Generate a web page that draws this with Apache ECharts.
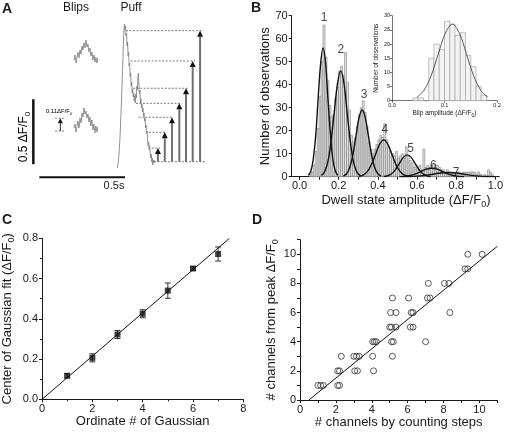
<!DOCTYPE html>
<html><head><meta charset="utf-8">
<script src="https://cdn.jsdelivr.net/npm/echarts@6/dist/echarts.min.js"></script>
<style>html,body{margin:0;padding:0;background:#fff}#c{width:506px;height:433px}</style>
</head><body><div id="c"></div>
<script>
// ---------- Panel A (time in s, amplitude in dF/F0) ----------
const puffStart = 0.455, puffStep = 0.003;
const puffTrace = [-0.048,-0.033,-0.002,0.044,0.105,0.167,0.259,0.352,0.459,0.567,0.690,0.798,0.921,1.013,1.059,1.013,1.044,0.967,0.990,0.890,0.921,0.813,0.844,0.736,0.759,0.652,0.682,0.582,0.613,0.528,0.559,0.498,0.528,0.467,0.505,0.452,0.521,0.490,0.582,0.552,0.644,0.682,0.598,0.521,0.552,0.452,0.482,0.413,0.444,0.382,0.413,0.352,0.375,0.313,0.336,0.259,0.282,0.213,0.236,0.167,0.121,0.152,0.090,0.121,0.067,0.028,0.059,-0.002,0.028,-0.025,0.013,-0.010,0.013];
const blipStart = 0.2025, blipStep = 0.0058;
const blipUpper = [0.782,0.821,0.759,0.805,0.844,0.798,0.859,0.828,0.890,0.859,0.913,0.875,0.936,0.882,0.905,0.844,0.875,0.813,0.844,0.782,0.821,0.767,0.805,0.759,0.798];
const blipLower = [0.259,0.290,0.228,0.275,0.313,0.259,0.336,0.298,0.375,0.344,0.413,0.367,0.390,0.336,0.367,0.305,0.344,0.275,0.321,0.244,0.290,0.221,0.275,0.228,0.267];
const stepLevels = [0.105,0.226,0.342,0.449,0.565,0.775,1.008];
const stepArrowT = [0.692,0.732,0.774,0.817,0.856,0.895,0.938];
const stepDashStart = [0.656,0.640,0.578,0.564,0.548,0.533,0.506];
const stepDashEnd = [0.704,0.743,0.782,0.831,0.869,0.908,0.957];
const puffBaseline = [0.669,0.967,0];
const blipRefDash = [[0.092,0.150,0.236],[0.092,0.150,0.334]];
const blipRefArrow = [0.1225,0.236,0.334];

// ---------- Panel B ----------
const histStart = 0.05, histBin = 0.01;
const histCounts = [1,2,5,11,21,35,50,66,52,42,31,26,27,34,39,46,48,44,54,41,29,18,15,17,22,27,30,33,28,22,15,12,10,12,14,16,18,17,23,16,13,11,10,9,11,8,9,10,8,13,9,7,6,4,5,4,5,3,12,4,5,4,5,5,4,5,4,3,3,2,3,2,2,2,1,2,2,1,2,2,2,2,2,2,2,1,2,1,0,1,0,3,2,1,0];
const fit1 = [[0.045,0.6],[0.058,2.5],[0.07,7.6],[0.083,18.2],[0.095,34],[0.108,49.4],[0.12,56],[0.133,49.4],[0.145,34],[0.158,18.2],[0.17,7.6],[0.183,2.5],[0.195,0.6]];
const fit2 = [[0.111,0.5],[0.127,2],[0.144,6.2],[0.16,14.9],[0.177,27.9],[0.194,40.6],[0.21,46],[0.227,40.6],[0.243,27.9],[0.26,14.9],[0.276,6.2],[0.293,2],[0.309,0.5]];
const fit3 = [[0.224,0.3],[0.24,1.3],[0.256,3.9],[0.272,9.4],[0.288,17.6],[0.304,25.6],[0.32,29],[0.336,25.6],[0.352,17.6],[0.368,9.4],[0.384,3.9],[0.4,1.3],[0.416,0.3]];
const fit4 = [[0.304,0.2],[0.325,0.7],[0.346,2.2],[0.367,5.2],[0.388,9.7],[0.409,14.1],[0.43,16],[0.451,14.1],[0.472,9.7],[0.493,5.2],[0.514,2.2],[0.535,0.7],[0.556,0.2]];
const fit5 = [[0.43,0.1],[0.45,0.4],[0.47,1.3],[0.49,3.1],[0.51,5.8],[0.53,8.4],[0.55,9.5],[0.57,8.4],[0.59,5.8],[0.61,3.1],[0.63,1.3],[0.65,0.4],[0.67,0.1]];
const fit6 = [[0.51,0.04],[0.5375,0.16],[0.565,0.5],[0.5925,1.2],[0.62,2.24],[0.6475,3.27],[0.675,3.7],[0.7025,3.27],[0.73,2.24],[0.7575,1.2],[0.785,0.5],[0.8125,0.16],[0.84,0.04]];
const fit7 = [[0.52,0.02],[0.56,0.08],[0.6,0.24],[0.64,0.58],[0.68,1.09],[0.72,1.59],[0.76,1.8],[0.8,1.59],[0.84,1.09],[0.88,0.58],[0.92,0.24],[0.96,0.08],[1.0,0.02]];
const peakLabels = ['1','2','3','4','5','6','7'];
const peakLabelPos = [[0.126,69],[0.211,55.4],[0.33,35.5],[0.435,20.6],[0.567,12],[0.683,4.8],[0.8,1.9]];
const insetStart = 0.04, insetBin = 0.01;
const insetCounts = [1,1,0,15,20,18,28,27,23,24,16,12,5,2];
const insetFit = [[0.0475,1.2],[0.061,3.7],[0.0745,8.8],[0.088,16.4],[0.1015,23.8],[0.115,27],[0.1285,23.8],[0.142,16.4],[0.1555,8.8],[0.169,3.7],[0.1825,1.2]];

// ---------- Panel C ----------
const cOrdinate = [1,2,3,4,5,6,7];
const cCenter = [0.117,0.206,0.322,0.425,0.540,0.650,0.722];
const cErr = [0.010,0.020,0.020,0.020,0.038,0.008,0.035];
const cFit = [[0,0],[7.45,0.8]];

// ---------- Panel D ----------
const dSteps = [1.0,1.15,1.3,2.1,2.2, 2.1,2.2,3.05,3.2,4.1, 2.3,3.0,3.15,3.3,4.05,5.15, 4.05,4.15,4.25,5.1,5.2,7.0, 5.0,5.1,5.35,6.15,6.3, 5.05,5.35,6.2,6.3,8.35, 5.15,6.05,7.1,7.25, 7.15,8.05,8.3, 9.2,9.35, 9.35,10.15];
const dPeak  = [1,1,1,1,1, 2,2,2,2,2, 3,3,3,3,3,3, 4,4,4,4,4,4, 5,5,5,5,5, 6,6,6,6,6, 7,7,7,7, 8,8,8, 9,9, 10,10];
const dFit = [[0.5,0],[11,10.55]];

// ---------- helpers ----------
const FONT = 'Liberation Sans, Arial, sans-serif';
const INK = '#1a1a1a';
function sub0(pre, post, fs) {
  return {
    text: '{n|' + pre + '}{s|0}{n|' + post + '}',
    rich: {
      n: {fontSize: fs, fontFamily: FONT, color: INK, lineHeight: fs + 2, verticalAlign: 'top'},
      s: {fontSize: Math.round(fs * 0.7), fontFamily: FONT, color: INK, lineHeight: Math.round(fs * 0.7), verticalAlign: 'bottom'}
    }
  };
}
function axis(grid, min, max, extra) {
  return Object.assign({
    type: 'value', gridIndex: grid, min: min, max: max,
    axisLine: {show: true, onZero: false, lineStyle: {color: INK, width: 1}},
    axisTick: {show: true, inside: false, length: 3, lineStyle: {color: INK, width: 1}},
    axisLabel: {color: INK, fontSize: 11, fontFamily: FONT, margin: 4},
    splitLine: {show: false},
    nameLocation: 'middle',
    nameTextStyle: {color: INK, fontSize: 13, fontFamily: FONT}
  }, extra || {});
}
function histItem(width, fill, stroke, lw) {
  return function (params, api) {
    const x0 = api.value(0), y = api.value(1);
    const p0 = api.coord([x0, y]), p1 = api.coord([x0 + width, 0]);
    return {type: 'rect', shape: {x: p0[0], y: p0[1], width: p1[0] - p0[0], height: p1[1] - p0[1]},
            style: {fill: fill, stroke: stroke, lineWidth: lw}};
  };
}

const bxName = sub0('Dwell state amplitude (\u0394F/F', ')', 13);
const insetXName = sub0('Blip amplitude (\u0394F/F', ')', 6.5);
const cyName = sub0('Center of Gaussian fit (\u0394F/F', ')', 13);
const dyName = sub0('# channels from peak \u0394F/F', '', 13);

const chart = echarts.init(document.getElementById('c'), null, {renderer: 'canvas'});
const option = {
  animation: false,
  backgroundColor: '#fff',
  grid: [
    {left: 22.2, top: 18.7, width: 188.5, height: 169},
    {left: 291.7, top: 15.7, width: 209, height: 161},
    {left: 392, top: 15.7, width: 105, height: 85},
    {left: 41.7, top: 238.3, width: 201.6, height: 161},
    {left: 300, top: 239.7, width: 197.4, height: 160.3}
  ],
  xAxis: [
    axis(0, -0.1, 1.0, {show: false}),
    axis(1, -0.04, 1.02, {
      name: bxName.text, nameGap: 17,
      nameTextStyle: {rich: bxName.rich, padding: [0, 0, 0, 21]},
      axisLabel: {color: INK, fontSize: 11, fontFamily: FONT, margin: 4, customValues: [0,0.2,0.4,0.6,0.8,1.0], formatter: v => v.toFixed(1)},
      axisTick: {show: true, length: 3, lineStyle: {color: INK}, customValues: [0,0.1,0.2,0.3,0.4,0.5,0.6,0.7,0.8,0.9,1.0]}
    }),
    axis(2, 0, 0.2, {
      interval: 0.1, name: insetXName.text, nameGap: 7,
      nameTextStyle: {rich: insetXName.rich},
      axisLabel: {color: INK, fontSize: 5.5, fontFamily: FONT, margin: 2, formatter: v => v.toFixed(1)},
      axisTick: {show: true, length: 2, lineStyle: {color: INK, width: 0.6}},
      axisLine: {show: true, onZero: false, lineStyle: {color: INK, width: 0.6}}
    }),
    axis(3, 0, 8, {
      interval: 2, name: 'Ordinate # of Gaussian', nameGap: 15,
      minorTick: {show: true, splitNumber: 2, length: 2, lineStyle: {color: INK}}
    }),
    axis(4, 0, 11, {
      name: '# channels by counting steps', nameGap: 15,
      axisLabel: {color: INK, fontSize: 11, fontFamily: FONT, margin: 4, customValues: [0,2,4,6,8,10]},
      axisTick: {show: true, length: 3, lineStyle: {color: INK}, customValues: [0,1,2,3,4,5,6,7,8,9,10,11]}
    })
  ],
  yAxis: [
    axis(0, -0.2, 1.1, {show: false}),
    axis(1, 0, 70, {
      interval: 10, name: 'Number of observations', nameGap: 17,
      nameTextStyle: {color: INK, fontSize: 13, fontFamily: FONT}
    }),
    axis(2, 0, 30, {
      interval: 5, name: 'Number of observations', nameGap: 8,
      nameTextStyle: {color: INK, fontSize: 6.5, fontFamily: FONT},
      axisLabel: {color: INK, fontSize: 5.5, fontFamily: FONT, margin: 2},
      axisTick: {show: true, length: 2, lineStyle: {color: INK, width: 0.6}},
      axisLine: {show: true, onZero: false, lineStyle: {color: INK, width: 0.6}}
    }),
    axis(3, 0, 0.8, {
      interval: 0.2, name: cyName.text, nameGap: 26,
      nameTextStyle: {rich: cyName.rich},
      axisLabel: {color: INK, fontSize: 11, fontFamily: FONT, margin: 4, formatter: v => v.toFixed(1)},
      minorTick: {show: true, splitNumber: 2, length: 2, lineStyle: {color: INK}}
    }),
    axis(4, 0, 11, {
      name: dyName.text, nameGap: 20,
      nameTextStyle: {rich: dyName.rich},
      axisLabel: {color: INK, fontSize: 11, fontFamily: FONT, margin: 4, customValues: [0,2,4,6,8,10]},
      axisTick: {show: true, length: 3, lineStyle: {color: INK}, customValues: [0,1,2,3,4,5,6,7,8,9,10,11]}
    })
  ],
  series: [
    // ----- A -----
    {type: 'line', xAxisIndex: 0, yAxisIndex: 0, symbol: 'none', showSymbol: false, lineStyle: {color: '#858585', width: 0.9},
     data: puffTrace.map((v, i) => [puffStart + i * puffStep, v])},
    {type: 'line', xAxisIndex: 0, yAxisIndex: 0, symbol: 'none', showSymbol: false, lineStyle: {color: '#858585', width: 0.9},
     data: blipUpper.map((v, i) => [blipStart + i * blipStep, v])},
    {type: 'line', xAxisIndex: 0, yAxisIndex: 0, symbol: 'none', showSymbol: false, lineStyle: {color: '#858585', width: 0.9},
     data: blipLower.map((v, i) => [blipStart + i * blipStep, v])},
    {type: 'custom', xAxisIndex: 0, yAxisIndex: 0, silent: true,
     data: stepLevels.map((v, i) => [stepDashStart[i], stepDashEnd[i], v]).concat([puffBaseline], blipRefDash),
     renderItem: function (params, api) {
       const p1 = api.coord([api.value(0), api.value(2)]), p2 = api.coord([api.value(1), api.value(2)]);
       return {type: 'line', shape: {x1: p1[0], y1: p1[1], x2: p2[0], y2: p2[1]},
               style: {stroke: '#444', lineWidth: 0.7, lineDash: [2, 1.5]}};
     }},
    {type: 'custom', xAxisIndex: 0, yAxisIndex: 0, silent: true,
     data: stepArrowT.map((t, i) => [t, 0, stepLevels[i], 2]).concat([[blipRefArrow[0], blipRefArrow[1], blipRefArrow[2], 1]]),
     renderItem: function (params, api) {
       const p0 = api.coord([api.value(0), api.value(1)]), p1 = api.coord([api.value(0), api.value(2)]);
       const w = api.value(3);
       const hh = w > 1.5 ? 6 : 5, hw = w > 1.5 ? 3 : 2.5;
       return {type: 'group', children: [
         {type: 'line', shape: {x1: p0[0], y1: p0[1], x2: p1[0], y2: p1[1] + hh}, style: {stroke: w > 1.5 ? '#707070' : '#222', lineWidth: w}},
         {type: 'polygon', shape: {points: [[p1[0], p1[1]], [p1[0] - hw, p1[1] + hh], [p1[0] + hw, p1[1] + hh]]}, style: {fill: '#111'}}
       ]};
     }},
    {type: 'line', xAxisIndex: 0, yAxisIndex: 0, symbol: 'none', lineStyle: {color: '#111', width: 2.5},
     data: [[-0.035, -0.02], [-0.035, 0.48]]},
    {type: 'line', xAxisIndex: 0, yAxisIndex: 0, symbol: 'none', lineStyle: {color: '#111', width: 2},
     data: [[0, -0.12], [0.5, -0.12]]},
    // ----- B -----
    {type: 'custom', xAxisIndex: 1, yAxisIndex: 1, silent: true,
     data: histCounts.map((c, i) => [histStart + i * histBin, c]),
     renderItem: histItem(histBin, '#e2e2e2', '#7f7f7f', 0.6)},
    ...[fit1, fit2, fit3, fit4, fit5, fit6, fit7].map(d => ({
      type: 'line', xAxisIndex: 1, yAxisIndex: 1, symbol: 'none', smooth: 0.35,
      lineStyle: {color: '#111', width: 1.4}, data: d})),
    {type: 'scatter', xAxisIndex: 1, yAxisIndex: 1, symbolSize: 0, silent: true,
     data: peakLabelPos.map((p, i) => ({name: peakLabels[i], value: p})),
     label: {show: true, position: 'inside', formatter: p => p.name, color: INK, fontSize: 12, fontFamily: FONT}},
    {type: 'custom', xAxisIndex: 2, yAxisIndex: 2, silent: true,
     data: insetCounts.map((c, i) => [insetStart + i * insetBin, c]),
     renderItem: histItem(insetBin, '#f3f3f3', '#9a9a9a', 0.6)},
    {type: 'line', xAxisIndex: 2, yAxisIndex: 2, symbol: 'none', smooth: 0.35,
     lineStyle: {color: '#333', width: 0.8}, data: insetFit},
    // ----- C -----
    {type: 'line', xAxisIndex: 3, yAxisIndex: 3, symbol: 'none', lineStyle: {color: '#111', width: 1}, data: cFit},
    {type: 'custom', xAxisIndex: 3, yAxisIndex: 3, silent: true,
     data: cOrdinate.map((x, i) => [x, cCenter[i], cErr[i]]),
     renderItem: function (params, api) {
       const x = api.value(0), y = api.value(1), e = api.value(2);
       const lo = api.coord([x, y - e]), hi = api.coord([x, y + e]);
       const st = {stroke: '#333', lineWidth: 1};
       return {type: 'group', children: [
         {type: 'line', shape: {x1: lo[0], y1: lo[1], x2: hi[0], y2: hi[1]}, style: st},
         {type: 'line', shape: {x1: lo[0] - 3, y1: lo[1], x2: lo[0] + 3, y2: lo[1]}, style: st},
         {type: 'line', shape: {x1: hi[0] - 3, y1: hi[1], x2: hi[0] + 3, y2: hi[1]}, style: st}
       ]};
     }},
    {type: 'scatter', xAxisIndex: 3, yAxisIndex: 3, symbol: 'rect', symbolSize: 6,
     itemStyle: {color: '#111'}, data: cOrdinate.map((x, i) => [x, cCenter[i]])},
    // ----- D -----
    {type: 'line', xAxisIndex: 4, yAxisIndex: 4, symbol: 'none', lineStyle: {color: '#111', width: 1}, data: dFit},
    {type: 'scatter', xAxisIndex: 4, yAxisIndex: 4, symbol: 'circle', symbolSize: 6,
     itemStyle: {color: 'rgba(0,0,0,0)', borderColor: '#333', borderWidth: 1},
     data: dSteps.map((x, i) => [x, dPeak[i]])}
  ],
  graphic: [
    {type: 'text', left: 2, top: 2, style: {text: 'A', font: 'bold 14px ' + FONT, fill: INK}},
    {type: 'text', left: 251, top: 1, style: {text: 'B', font: 'bold 14px ' + FONT, fill: INK}},
    {type: 'text', left: 2, top: 213, style: {text: 'C', font: 'bold 14px ' + FONT, fill: INK}},
    {type: 'text', left: 252, top: 213, style: {text: 'D', font: 'bold 14px ' + FONT, fill: INK}},
    {type: 'text', x: 76, y: 8, style: {text: 'Blips', font: '12px ' + FONT, fill: INK, align: 'center', verticalAlign: 'middle'}},
    {type: 'text', x: 131, y: 8, style: {text: 'Puff', font: '12px ' + FONT, fill: INK, align: 'center', verticalAlign: 'middle'}},
    {type: 'text', x: 114, y: 186, style: {text: '0.5s', font: '11px ' + FONT, fill: INK, align: 'center', verticalAlign: 'middle'}},
    {type: 'text', x: 25, y: 137, rotation: Math.PI / 2,
     style: {text: '{n|0.5 \u0394F/F}{s|0}', rich: sub0('', '', 12).rich, align: 'center', verticalAlign: 'middle'}},
    {type: 'text', x: 59, y: 112,
     style: {text: '{n|0.11\u0394F/F}{s|0}', rich: sub0('', '', 6).rich, align: 'center', verticalAlign: 'middle'}}
  ]
};
chart.setOption(option);
</script>
</body></html>
